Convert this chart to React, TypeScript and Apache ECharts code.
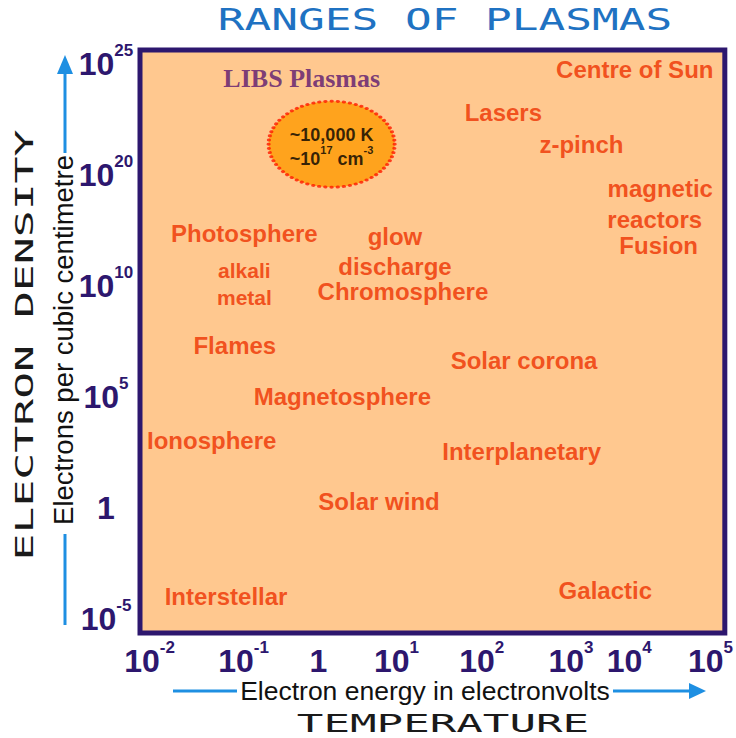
import React, { useEffect, useRef } from "react";
import * as echarts from "echarts";

const titleText = "RANGES OF PLASMAS";
const xAxisTitle = "TEMPERATURE";
const yAxisTitle = "ELECTRON DENSITY";
const xUnitText = "Electron energy in electronvolts";
const yUnitText = "Electrons per cubic centimetre";

// Temperature axis: tick label (base, exponent) and where it sits (decades of eV)
const xTickBase = ["10", "10", "1", "10", "10", "10", "10", "10"];
const xTickExp = ["-2", "-1", "", "1", "2", "3", "4", "5"];
const xTickPos = [-2, -0.82, 0.12, 1.1, 2.17, 3.29, 4.02, 5.04];

// Density axis: tick label (base, exponent) and its row on the chart
const yTickBase = ["10", "1", "10", "10", "10", "10"];
const yTickExp = ["-5", "", "5", "10", "20", "25"];
const yTickPos = [0, 1, 2, 3, 4, 5];

// Plasma regions (energy position, density row)
const plasmaNames = [
  "Centre of Sun", "Lasers", "z-pinch", "magnetic", "reactors", "Fusion",
  "Photosphere", "glow", "discharge", "alkali", "metal", "Chromosphere",
  "Flames", "Magnetosphere", "Solar corona", "Ionosphere", "Interplanetary",
  "Solar wind", "Interstellar", "Galactic",
];
const plasmaX = [
  4.09, 2.44, 3.42, 4.41, 4.34, 4.39,
  -0.81, 1.08, 1.08, -0.81, -0.81, 1.18,
  -0.93, 0.42, 2.70, -1.22, 2.67,
  0.88, -1.04, 3.72,
];
const plasmaY = [
  4.92, 4.54, 4.25, 3.85, 3.57, 3.34,
  3.45, 3.42, 3.15, 3.11, 2.87, 2.92,
  2.44, 1.98, 2.30, 1.58, 1.48,
  1.03, 0.18, 0.23,
];

// LIBS plasma region
const libsTitle = "LIBS Plasmas";
const libsTitleX = -0.09;
const libsTitleY = 4.84;
const libsX = 0.285;
const libsY = 4.25;
const libsTemp = "~10,000 K";
const libsDensityBase = "~10";
const libsDensityExp = "17";
const libsDensityUnit = " cm";
const libsDensityUnitExp = "-3";

const smallNames = ["alkali", "metal"];

const AXIS_COLOR = "#2D176E";
const LABEL_COLOR = "#EE3200";
const BLUE = "#1E8FE2";
const TICK_FONT = "'Liberation Sans Narrow', 'Liberation Sans', Arial, sans-serif";
const SANS = "'Liberation Sans', Arial, sans-serif";
const MONO = "'DejaVu Sans Mono', monospace";

function nearest(arr: number[], v: number) {
  let best = 0;
  for (let i = 1; i < arr.length; i++) {
    if (Math.abs(arr[i] - v) < Math.abs(arr[best] - v)) best = i;
  }
  return best;
}

function tickLabel(base: string[], exp: string[], pos: number[], v: number) {
  const i = nearest(pos, v);
  return exp[i] ? `{b|${base[i]}}{s|${exp[i]}}` : `{b|${base[i]}}`;
}

const tickRich = {
  b: {
    fontSize: 32,
    fontWeight: "bold",
    fontFamily: TICK_FONT,
    color: AXIS_COLOR,
    lineHeight: 38,
    verticalAlign: "bottom",
  },
  s: {
    fontSize: 17,
    fontWeight: "bold",
    fontFamily: TICK_FONT,
    color: AXIS_COLOR,
    lineHeight: 12,
    verticalAlign: "top",
  },
};

export default function App() {
  const ref = useRef<HTMLDivElement>(null);

  useEffect(() => {
    if (!ref.current) return;
    const chart = echarts.init(ref.current, null, { renderer: "svg" });

    const plasmaData = plasmaNames.map((n, i) => ({
      name: n,
      value: [plasmaX[i], plasmaY[i]],
      label: smallNames.includes(n) ? { fontSize: 21 } : undefined,
    }));
    plasmaData.push({
      name: libsTitle,
      value: [libsTitleX, libsTitleY],
      label: {
        fontSize: 26,
        fontFamily: "'Liberation Serif', 'Times New Roman', serif",
        color: "#5A1770",
      } as any,
    });

    const option: any = {
      animation: false,
      grid: {
        left: 140,
        top: 50,
        width: 592,
        height: 583,
        show: true,
        backgroundColor: "#FFC88F",
        borderColor: AXIS_COLOR,
        borderWidth: 5,
      },
      xAxis: {
        type: "value",
        min: -2.12,
        max: 5.22,
        axisLine: { show: false },
        axisTick: { show: false },
        splitLine: { show: false },
        axisLabel: {
          customValues: xTickPos,
          margin: 6,
          formatter: (v: number) => tickLabel(xTickBase, xTickExp, xTickPos, v),
          rich: tickRich,
        },
      },
      yAxis: {
        type: "value",
        min: -0.153,
        max: 5.099,
        axisLine: { show: false },
        axisTick: { show: false },
        splitLine: { show: false },
        axisLabel: {
          customValues: yTickPos,
          margin: 34,
          align: "center",
          formatter: (v: number) => tickLabel(yTickBase, yTickExp, yTickPos, v),
          rich: tickRich,
        },
      },
      series: [
        {
          type: "scatter",
          silent: true,
          data: [{ value: [libsX, libsY] }],
          symbol: "circle",
          symbolSize: [126, 86],
          itemStyle: {
            color: "#FF9A00",
            borderColor: "#FF1A00",
            borderWidth: 3.5,
            borderType: [0.1, 5],
            borderCap: "round",
          },
          label: {
            show: true,
            position: "inside",
            formatter:
              `{a|${libsTemp}}\n{a|${libsDensityBase}}{s|${libsDensityExp}}{a|${libsDensityUnit}}{s|${libsDensityUnitExp}}`,
            rich: {
              a: {
                fontSize: 18,
                fontWeight: "bold",
                fontFamily: SANS,
                color: "#000",
                lineHeight: 24,
                verticalAlign: "bottom",
              },
              s: {
                fontSize: 11,
                fontWeight: "bold",
                fontFamily: SANS,
                color: "#000",
                lineHeight: 16,
                verticalAlign: "top",
              },
            },
          },
          emphasis: { disabled: true },
          z: 3,
        },
        {
          type: "scatter",
          silent: true,
          data: plasmaData,
          symbolSize: 1,
          itemStyle: { color: "rgba(0,0,0,0)" },
          label: {
            show: true,
            position: "inside",
            formatter: "{b}",
            color: LABEL_COLOR,
            fontSize: 24,
            fontWeight: "bold",
            fontFamily: SANS,
          },
          emphasis: { disabled: true },
          z: 4,
        },
      ],
      graphic: [
        {
          type: "text",
          x: 445,
          y: 20,
          scaleX: 1.48,
          style: {
            text: titleText,
            fontSize: 30,
            fontFamily: MONO,
            fill: "#1F72C2",
            align: "center",
            verticalAlign: "middle",
          },
        },
        {
          type: "text",
          x: 443,
          y: 724,
          scaleX: 1.84,
          style: {
            text: xAxisTitle,
            fontSize: 24,
            fontFamily: MONO,
            fill: "#1A1A1A",
            align: "center",
            verticalAlign: "middle",
          },
        },
        {
          type: "text",
          x: 24,
          y: 345,
          rotation: Math.PI / 2,
          scaleX: 1.79,
          style: {
            text: yAxisTitle,
            fontSize: 25,
            fontFamily: MONO,
            fill: "#1A1A1A",
            align: "center",
            verticalAlign: "middle",
          },
        },
        {
          type: "text",
          x: 425,
          y: 691,
          style: {
            text: xUnitText,
            fontSize: 26.5,
            fontFamily: SANS,
            fill: "#111",
            align: "center",
            verticalAlign: "middle",
          },
        },
        {
          type: "text",
          x: 63,
          y: 340,
          rotation: Math.PI / 2,
          style: {
            text: yUnitText,
            fontSize: 27.5,
            fontFamily: SANS,
            fill: "#111",
            align: "center",
            verticalAlign: "middle",
          },
        },
        { type: "line", shape: { x1: 173, y1: 691, x2: 237, y2: 691 }, style: { stroke: BLUE, lineWidth: 3 } },
        { type: "line", shape: { x1: 613, y1: 691, x2: 692, y2: 691 }, style: { stroke: BLUE, lineWidth: 3 } },
        { type: "polygon", shape: { points: [[706, 691], [689, 683], [689, 699]] }, style: { fill: BLUE } },
        { type: "line", shape: { x1: 65, y1: 625, x2: 65, y2: 534 }, style: { stroke: BLUE, lineWidth: 3 } },
        { type: "line", shape: { x1: 65, y1: 153, x2: 65, y2: 72 }, style: { stroke: BLUE, lineWidth: 3 } },
        { type: "polygon", shape: { points: [[65, 55], [57, 74], [73, 74]] }, style: { fill: BLUE } },
      ],
    };

    chart.setOption(option);
    return () => chart.dispose();
  }, []);

  return (
    <div
      ref={ref}
      style={{ position: "fixed", left: 0, top: 0, width: 736, height: 738, background: "#fff" }}
    />
  );
}
